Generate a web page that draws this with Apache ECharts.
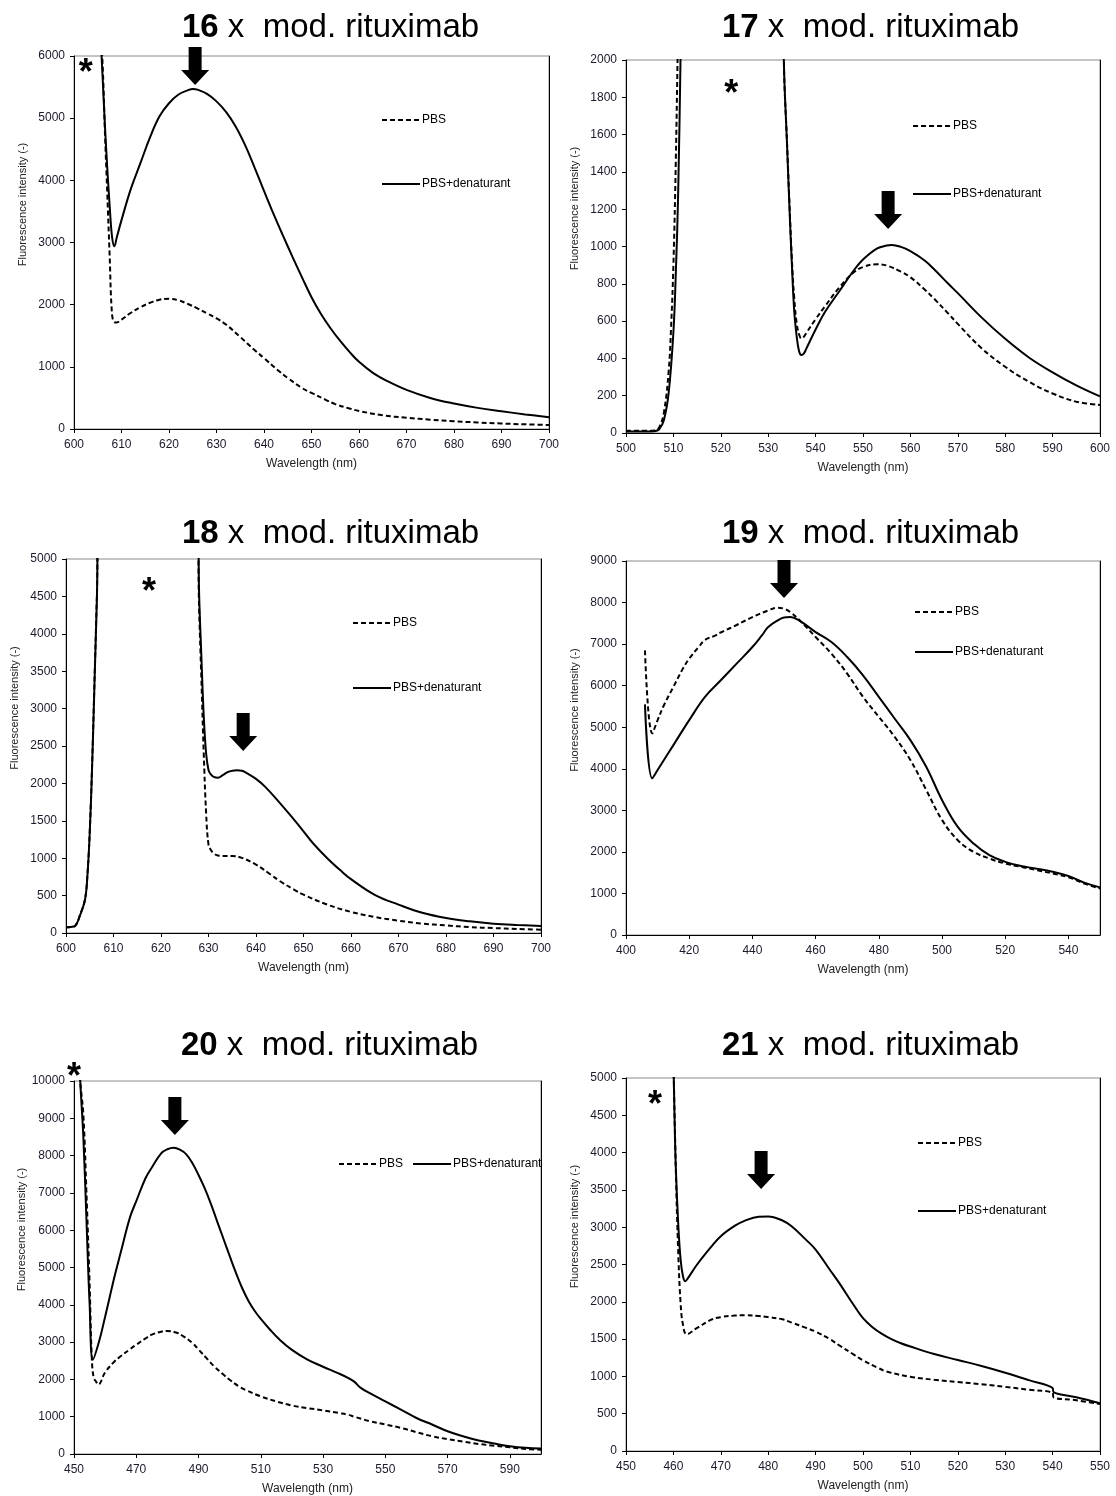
<!DOCTYPE html>
<html>
<head>
<meta charset="utf-8">
<script src="https://cdn.jsdelivr.net/npm/echarts@6.0.0/dist/echarts.min.js"></script>
<style>
  html, body { margin: 0; background: #fff; }
  #chart { width: 1116px; height: 1496px; }
</style>
</head>
<body>
<div id="chart"></div>
<script>
// ---- data (wavelength nm / intensity) ----
const xTicks16 = [600, 610, 620, 630, 640, 650, 660, 670, 680, 690, 700]
const wl16pbs = [605.4, 606, 606.5, 607, 607.5, 608, 608.5, 609, 610, 612, 614, 616, 618, 620, 622, 624, 626, 628, 630, 632, 635, 638, 640, 643, 645, 648, 650, 653, 655, 658, 660, 665, 670, 675, 680, 685, 690, 695, 700]
const pbs16 = [6600, 5900, 4800, 3800, 2800, 1850, 1720, 1715, 1760, 1870, 1960, 2030, 2080, 2095, 2070, 2010, 1940, 1860, 1780, 1680, 1480, 1270, 1140, 940, 820, 660, 580, 470, 400, 330, 290, 220, 180, 150, 125, 105, 88, 75, 65]
const wl16den = [605.4, 606, 606.5, 607, 607.5, 608, 608.5, 609, 610, 612, 614, 616, 618, 620, 622, 624, 625, 626, 628, 630, 632, 634, 636, 638, 640, 642, 644, 646, 648, 650, 652, 654, 656, 658, 660, 663, 666, 670, 675, 680, 685, 690, 695, 700]
const den16 = [6600, 5700, 4900, 4200, 3600, 3100, 2940, 3080, 3360, 3870, 4280, 4690, 5030, 5240, 5380, 5450, 5470, 5460, 5390, 5270, 5100, 4870, 4570, 4210, 3830, 3460, 3110, 2770, 2440, 2120, 1850, 1620, 1420, 1240, 1080, 900, 770, 630, 500, 410, 340, 285, 235, 190]

const xTicks17 = [500, 510, 520, 530, 540, 550, 560, 570, 580, 590, 600]
const wl17pbs = [500, 502, 504, 506, 507, 508, 509, 509.5, 510, 510.5, 511, 511.5, 533, 533.3, 534, 534.5, 535, 535.5, 536, 536.5, 537, 537.5, 538, 540, 542, 545, 548, 550, 553, 555, 558, 560, 563, 565, 568, 570, 575, 580, 585, 590, 595, 600]
const pbs17 = [12, 12, 12, 14, 30, 110, 330, 560, 900, 1450, 2200, 3000, 3000, 2000, 1540, 1220, 930, 720, 590, 530, 507, 515, 535, 610, 680, 780, 860, 890, 905, 898, 865, 835, 770, 720, 640, 585, 455, 355, 275, 212, 168, 150]
const wl17den = [500, 502, 504, 506, 507, 508, 509, 510, 510.5, 511, 511.5, 512, 533, 533.3, 534, 534.5, 535, 535.5, 536, 536.5, 537, 537.5, 538, 540, 542, 545, 548, 550, 553, 555, 556, 558, 560, 563, 565, 568, 570, 575, 580, 585, 590, 595, 600]
const den17 = [8, 8, 8, 10, 20, 70, 215, 540, 850, 1280, 2000, 2800, 2800, 2000, 1530, 1200, 900, 650, 520, 440, 418, 425, 450, 555, 650, 760, 870, 930, 990, 1005, 1008, 998, 975, 925, 878, 800, 750, 620, 505, 405, 325, 255, 196]

const xTicks18 = [600, 610, 620, 630, 640, 650, 660, 670, 680, 690, 700]
const wl18pbs = [600, 601, 602, 603, 604, 604.5, 605, 605.5, 606, 606.5, 607, 627.6, 628, 628.5, 629, 629.5, 630, 630.5, 631, 632, 633, 635, 637, 640, 643, 645, 648, 650, 655, 660, 665, 670, 675, 680, 685, 690, 695, 700]
const pbs18 = [76, 80, 100, 250, 450, 770, 1360, 2260, 3380, 4500, 5600, 5600, 4400, 3400, 2400, 1600, 1180, 1110, 1070, 1035, 1030, 1030, 1005, 915, 785, 695, 580, 512, 380, 282, 214, 165, 125, 102, 78, 66, 54, 45]
const wl18den = [600, 601, 602, 603, 604, 604.5, 605, 605.5, 606, 606.5, 607, 627.8, 628, 628.5, 629, 629.5, 630, 630.5, 631, 632, 633, 634, 635, 636, 637, 638, 640, 642, 645, 648, 650, 652, 655, 658, 660, 665, 670, 675, 680, 685, 690, 695, 700]
const den18 = [76, 80, 100, 245, 445, 757, 1340, 2230, 3340, 4460, 5600, 5600, 4600, 3700, 2900, 2400, 2180, 2120, 2090, 2075, 2110, 2150, 2170, 2175, 2170, 2140, 2060, 1950, 1740, 1515, 1360, 1200, 1000, 825, 720, 510, 380, 270, 200, 156, 125, 107, 94]

const xTicks19 = [400, 420, 440, 460, 480, 500, 520, 540]
const wl19pbs = [406, 408.3, 410, 412, 415, 418, 420, 423, 425, 428, 430, 435, 440, 445, 448, 450, 452, 455, 460, 465, 470, 475, 480, 485, 490, 495, 500, 505, 510, 515, 520, 525, 530, 535, 540, 545, 550]
const pbs19 = [6850, 4850, 5170, 5530, 5970, 6410, 6650, 6930, 7100, 7200, 7280, 7460, 7650, 7810, 7877, 7850, 7770, 7570, 7170, 6770, 6290, 5730, 5250, 4770, 4210, 3490, 2770, 2280, 2000, 1840, 1720, 1640, 1560, 1480, 1390, 1240, 1120]
const wl19den = [406, 408.3, 410, 412, 415, 420, 425, 430, 435, 440, 443, 445, 448, 450, 452, 455, 460, 465, 470, 475, 480, 485, 490, 495, 500, 505, 510, 515, 520, 525, 530, 535, 540, 545, 550]
const den19 = [5550, 3770, 3970, 4210, 4570, 5170, 5730, 6130, 6530, 6930, 7210, 7410, 7570, 7640, 7653, 7560, 7290, 7050, 6690, 6250, 5730, 5210, 4690, 4050, 3250, 2600, 2200, 1920, 1760, 1660, 1595, 1520, 1420, 1260, 1146]

const xTicks20 = [450, 470, 490, 510, 530, 550, 570, 590]
const wl20pbs = [451.5, 452, 453, 454, 455, 455.7, 456.3, 457, 457.8, 460, 463, 465, 468, 470, 473, 475, 478, 480, 483, 485, 488, 490, 493, 495, 498, 500, 503, 505, 510, 515, 520, 525, 530, 535, 538, 540, 545, 550, 555, 560, 565, 570, 575, 580, 585, 590, 595, 600]
const pbs20 = [11000, 10000, 9100, 7000, 4600, 2600, 2050, 1950, 1860, 2190, 2480, 2620, 2810, 2930, 3100, 3200, 3280, 3300, 3250, 3160, 2980, 2800, 2530, 2350, 2130, 1990, 1810, 1720, 1545, 1410, 1300, 1230, 1170, 1100, 1055, 1000, 880, 790, 700, 585, 475, 400, 330, 268, 223, 180, 135, 115]
const wl20den = [451.5, 452, 453, 454, 455, 456.1, 458, 460, 463, 465, 468, 470, 473, 475, 478, 480, 482, 484, 486, 488, 490, 492, 494, 496, 498, 500, 502, 504, 506, 508, 510, 513, 516, 520, 525, 530, 535, 538, 540, 542, 545, 550, 555, 560, 565, 570, 575, 580, 585, 590, 595, 600]
const den20 = [11000, 10000, 8500, 6280, 4050, 2530, 3000, 3680, 4750, 5400, 6350, 6780, 7400, 7680, 8060, 8170, 8210, 8160, 8040, 7800, 7480, 7120, 6700, 6230, 5770, 5310, 4860, 4450, 4110, 3840, 3620, 3330, 3070, 2790, 2530, 2340, 2160, 2040, 1940, 1780, 1630, 1410, 1190, 965, 790, 610, 475, 360, 280, 210, 165, 145]

const xTicks21 = [450, 460, 470, 480, 490, 500, 510, 520, 530, 540, 550]
const wl21pbs = [459.9, 460.5, 461, 461.5, 462, 462.8, 465, 468, 470, 473, 475, 478, 480, 483, 485, 488, 490, 493, 495, 498, 500, 503, 505, 510, 515, 520, 525, 530, 535, 540, 540.2, 545, 550]
const pbs21 = [5600, 3800, 2700, 2000, 1700, 1565, 1650, 1760, 1795, 1815, 1820, 1810, 1795, 1765, 1720, 1650, 1600, 1500, 1415, 1295, 1215, 1120, 1065, 995, 955, 925, 895, 860, 820, 780, 720, 680, 630]
const wl21den = [459.9, 460.2, 460.5, 461, 461.5, 462, 462.5, 463, 465, 468, 470, 473, 475, 478, 480, 483, 485, 488, 490, 493, 495, 498, 500, 502, 504, 506, 508, 510, 515, 520, 525, 530, 535, 540, 540.2, 545, 550]
const den21 = [5600, 4600, 3820, 3070, 2580, 2350, 2275, 2310, 2500, 2740, 2880, 3020, 3085, 3140, 3145, 3090, 3010, 2830, 2700, 2430, 2250, 1960, 1780, 1660, 1570, 1500, 1445, 1400, 1300, 1220, 1140, 1050, 950, 845, 790, 720, 641]

const FONT = "'Liberation Sans', Arial, sans-serif"
const ARROW = "path://M7.5,0 L20.5,0 L20.5,23 L28,23 L14,38 L0,23 L7.5,23 Z"

// layout per panel (pixel boxes, annotation spots in data units)
const panels = [
  { id: "16", grid: { left: 74, top: 56, width: 475, height: 373 }, x: [600, 700], ticks: xTicks16, yMax: 6000, yStep: 1000,
    pbs: [wl16pbs, pbs16], den: [wl16den, den16], title: { left: 182, top: 11 },
    legend: { left: 381, top: 114, orient: "vertical", itemGap: 52 }, arrow: [625.5, 5533], star: [602.5, 5839], starDy: 8 },
  { id: "17", grid: { left: 626, top: 60, width: 474, height: 373 }, x: [500, 600], ticks: xTicks17, yMax: 2000, yStep: 200,
    pbs: [wl17pbs, pbs17], den: [wl17den, den17], title: { left: 722, top: 11 },
    legend: { left: 912, top: 120, orient: "vertical", itemGap: 56 }, arrow: [555.3, 1094], star: [522.2, 1855], starDy: 8 },
  { id: "18", grid: { left: 66, top: 559, width: 475, height: 374 }, x: [600, 700], ticks: xTicks18, yMax: 5000, yStep: 500,
    pbs: [wl18pbs, pbs18], den: [wl18den, den18], title: { left: 182, top: 517 },
    legend: { left: 352, top: 617, orient: "vertical", itemGap: 53 }, arrow: [637.3, 2433], star: [617.5, 4652], starDy: 8 },
  { id: "19", grid: { left: 626, top: 561, width: 474, height: 374 }, x: [400, 550], ticks: xTicks19, yMax: 9000, yStep: 1000,
    pbs: [wl19pbs, pbs19], den: [wl19den, den19], title: { left: 722, top: 517 },
    legend: { left: 914, top: 606, orient: "vertical", itemGap: 28 }, arrow: [450, 8110], star: null },
  { id: "20", grid: { left: 74, top: 1081, width: 467, height: 373 }, x: [450, 600], ticks: xTicks20, yMax: 10000, yStep: 1000,
    pbs: [wl20pbs, pbs20], den: [wl20den, den20], title: { left: 181, top: 1029 },
    legend: { left: 338, top: 1158, orient: "horizontal", itemGap: 9 }, arrow: [482.4, 8552], star: [450, 10000], starDy: -3 },
  { id: "21", grid: { left: 626, top: 1078, width: 474, height: 373 }, x: [450, 550], ticks: xTicks21, yMax: 5000, yStep: 500,
    pbs: [wl21pbs, pbs21], den: [wl21den, den21], title: { left: 722, top: 1029 },
    legend: { left: 917, top: 1137, orient: "vertical", itemGap: 56 }, arrow: [478.5, 3512], star: [456.1, 4732], starDy: 8 },
]

const zip = (xs, ys) => xs.map((x, i) => [x, ys[i]])

const chart = echarts.init(document.getElementById("chart"), null, { renderer: "canvas" })

const grids = []
const xAxes = []
const yAxes = []
const series = []
const titles = []
const legends = []

panels.forEach((p, i) => {
  grids.push({ ...p.grid, show: true, borderColor: "#8a8a8a", borderWidth: 1, backgroundColor: "#fff" })

  xAxes.push({
    gridIndex: i,
    type: "value",
    min: p.x[0],
    max: p.x[1],
    axisLine: { show: true, onZero: false, lineStyle: { color: "#000", width: 1 } },
    axisTick: { show: true, length: 4, customValues: p.ticks, lineStyle: { color: "#000" } },
    axisLabel: { customValues: p.ticks, margin: 10, fontSize: 12, color: "#1a1a2a", fontFamily: FONT, formatter: (v) => String(v) },
    splitLine: { show: false },
    name: "Wavelength (nm)",
    nameLocation: "middle",
    nameGap: 29,
    nameTextStyle: { fontSize: 12, color: "#222", fontFamily: FONT },
  })

  yAxes.push({
    gridIndex: i,
    type: "value",
    min: 0,
    max: p.yMax,
    interval: p.yStep,
    axisLine: { show: true, onZero: false, lineStyle: { color: "#000", width: 1 } },
    axisTick: { show: true, length: 4, lineStyle: { color: "#000" } },
    axisLabel: { margin: 9, fontSize: 12, color: "#1a1a2a", fontFamily: FONT, formatter: (v) => String(v) },
    splitLine: { show: false },
    name: "Fluorescence intensity (-)",
    nameLocation: "middle",
    nameGap: 46,
    nameTextStyle: { fontSize: 11, color: "#222", fontFamily: FONT, padding: [0, 0, 0, 76] },
  })
  // black right-hand frame edge
  yAxes.push({
    gridIndex: i,
    type: "value",
    position: "right",
    min: 0,
    max: p.yMax,
    axisLine: { show: true, onZero: false, lineStyle: { color: "#000", width: 1 } },
    axisTick: { show: false },
    axisLabel: { show: false },
    splitLine: { show: false },
  })

  const yIdx = i * 2
  series.push({
    name: "PBS",
    type: "line",
    xAxisIndex: i,
    yAxisIndex: yIdx,
    data: zip(p.pbs[0], p.pbs[1]),
    symbol: "none",
    smooth: 0.4,
    lineStyle: { color: "#000", width: 2, type: [5, 3] },
    itemStyle: { color: "#000" },
    silent: true,
  })
  series.push({
    name: "PBS+denaturant",
    type: "line",
    xAxisIndex: i,
    yAxisIndex: yIdx,
    data: zip(p.den[0], p.den[1]),
    symbol: "none",
    smooth: 0.4,
    lineStyle: { color: "#000", width: 2, type: "solid" },
    itemStyle: { color: "#000" },
    silent: true,
  })

  // arrow + asterisk annotations (kept on an unclipped helper series)
  const marks = [
    { coord: p.arrow, symbol: ARROW, symbolSize: [28, 38], symbolOffset: [0, -19], itemStyle: { color: "#000" }, label: { show: false } },
  ]
  if (p.star) {
    marks.push({
      coord: p.star, symbol: "circle", symbolSize: 1, itemStyle: { color: "rgba(0,0,0,0)" },
      label: { show: true, position: "inside", formatter: "*", fontSize: 36, fontWeight: "bold", color: "#000", fontFamily: FONT, offset: [0, p.starDy] },
    })
  }
  series.push({
    name: "marks" + p.id,
    type: "line",
    xAxisIndex: i,
    yAxisIndex: yIdx,
    data: [],
    clip: false,
    silent: true,
    markPoint: { silent: true, animation: false, data: marks },
  })

  titles.push({
    text: "{b|" + p.id + "} x  mod. rituximab",
    left: p.title.left,
    top: p.title.top,
    padding: 0,
    textStyle: {
      fontSize: 33, fontWeight: "normal", color: "#000", fontFamily: FONT,
      rich: { b: { fontSize: 33, fontWeight: "bold", color: "#000", fontFamily: FONT } },
    },
  })

  legends.push({
    data: ["PBS", "PBS+denaturant"],
    left: p.legend.left,
    top: p.legend.top,
    orient: p.legend.orient,
    itemGap: p.legend.itemGap,
    itemWidth: 38,
    itemHeight: 12,
    padding: 0,
    selectedMode: false,
    itemStyle: { opacity: 0 },
    textStyle: { fontSize: 12, color: "#000", fontFamily: FONT, padding: [0, 0, 0, -3] },
  })
})

chart.setOption({
  backgroundColor: "#fff",
  animation: false,
  textStyle: { fontFamily: FONT },
  title: titles,
  legend: legends,
  grid: grids,
  xAxis: xAxes,
  yAxis: yAxes,
  series: series,
})

window.addEventListener("resize", () => chart.resize())
</script>
</body>
</html>
